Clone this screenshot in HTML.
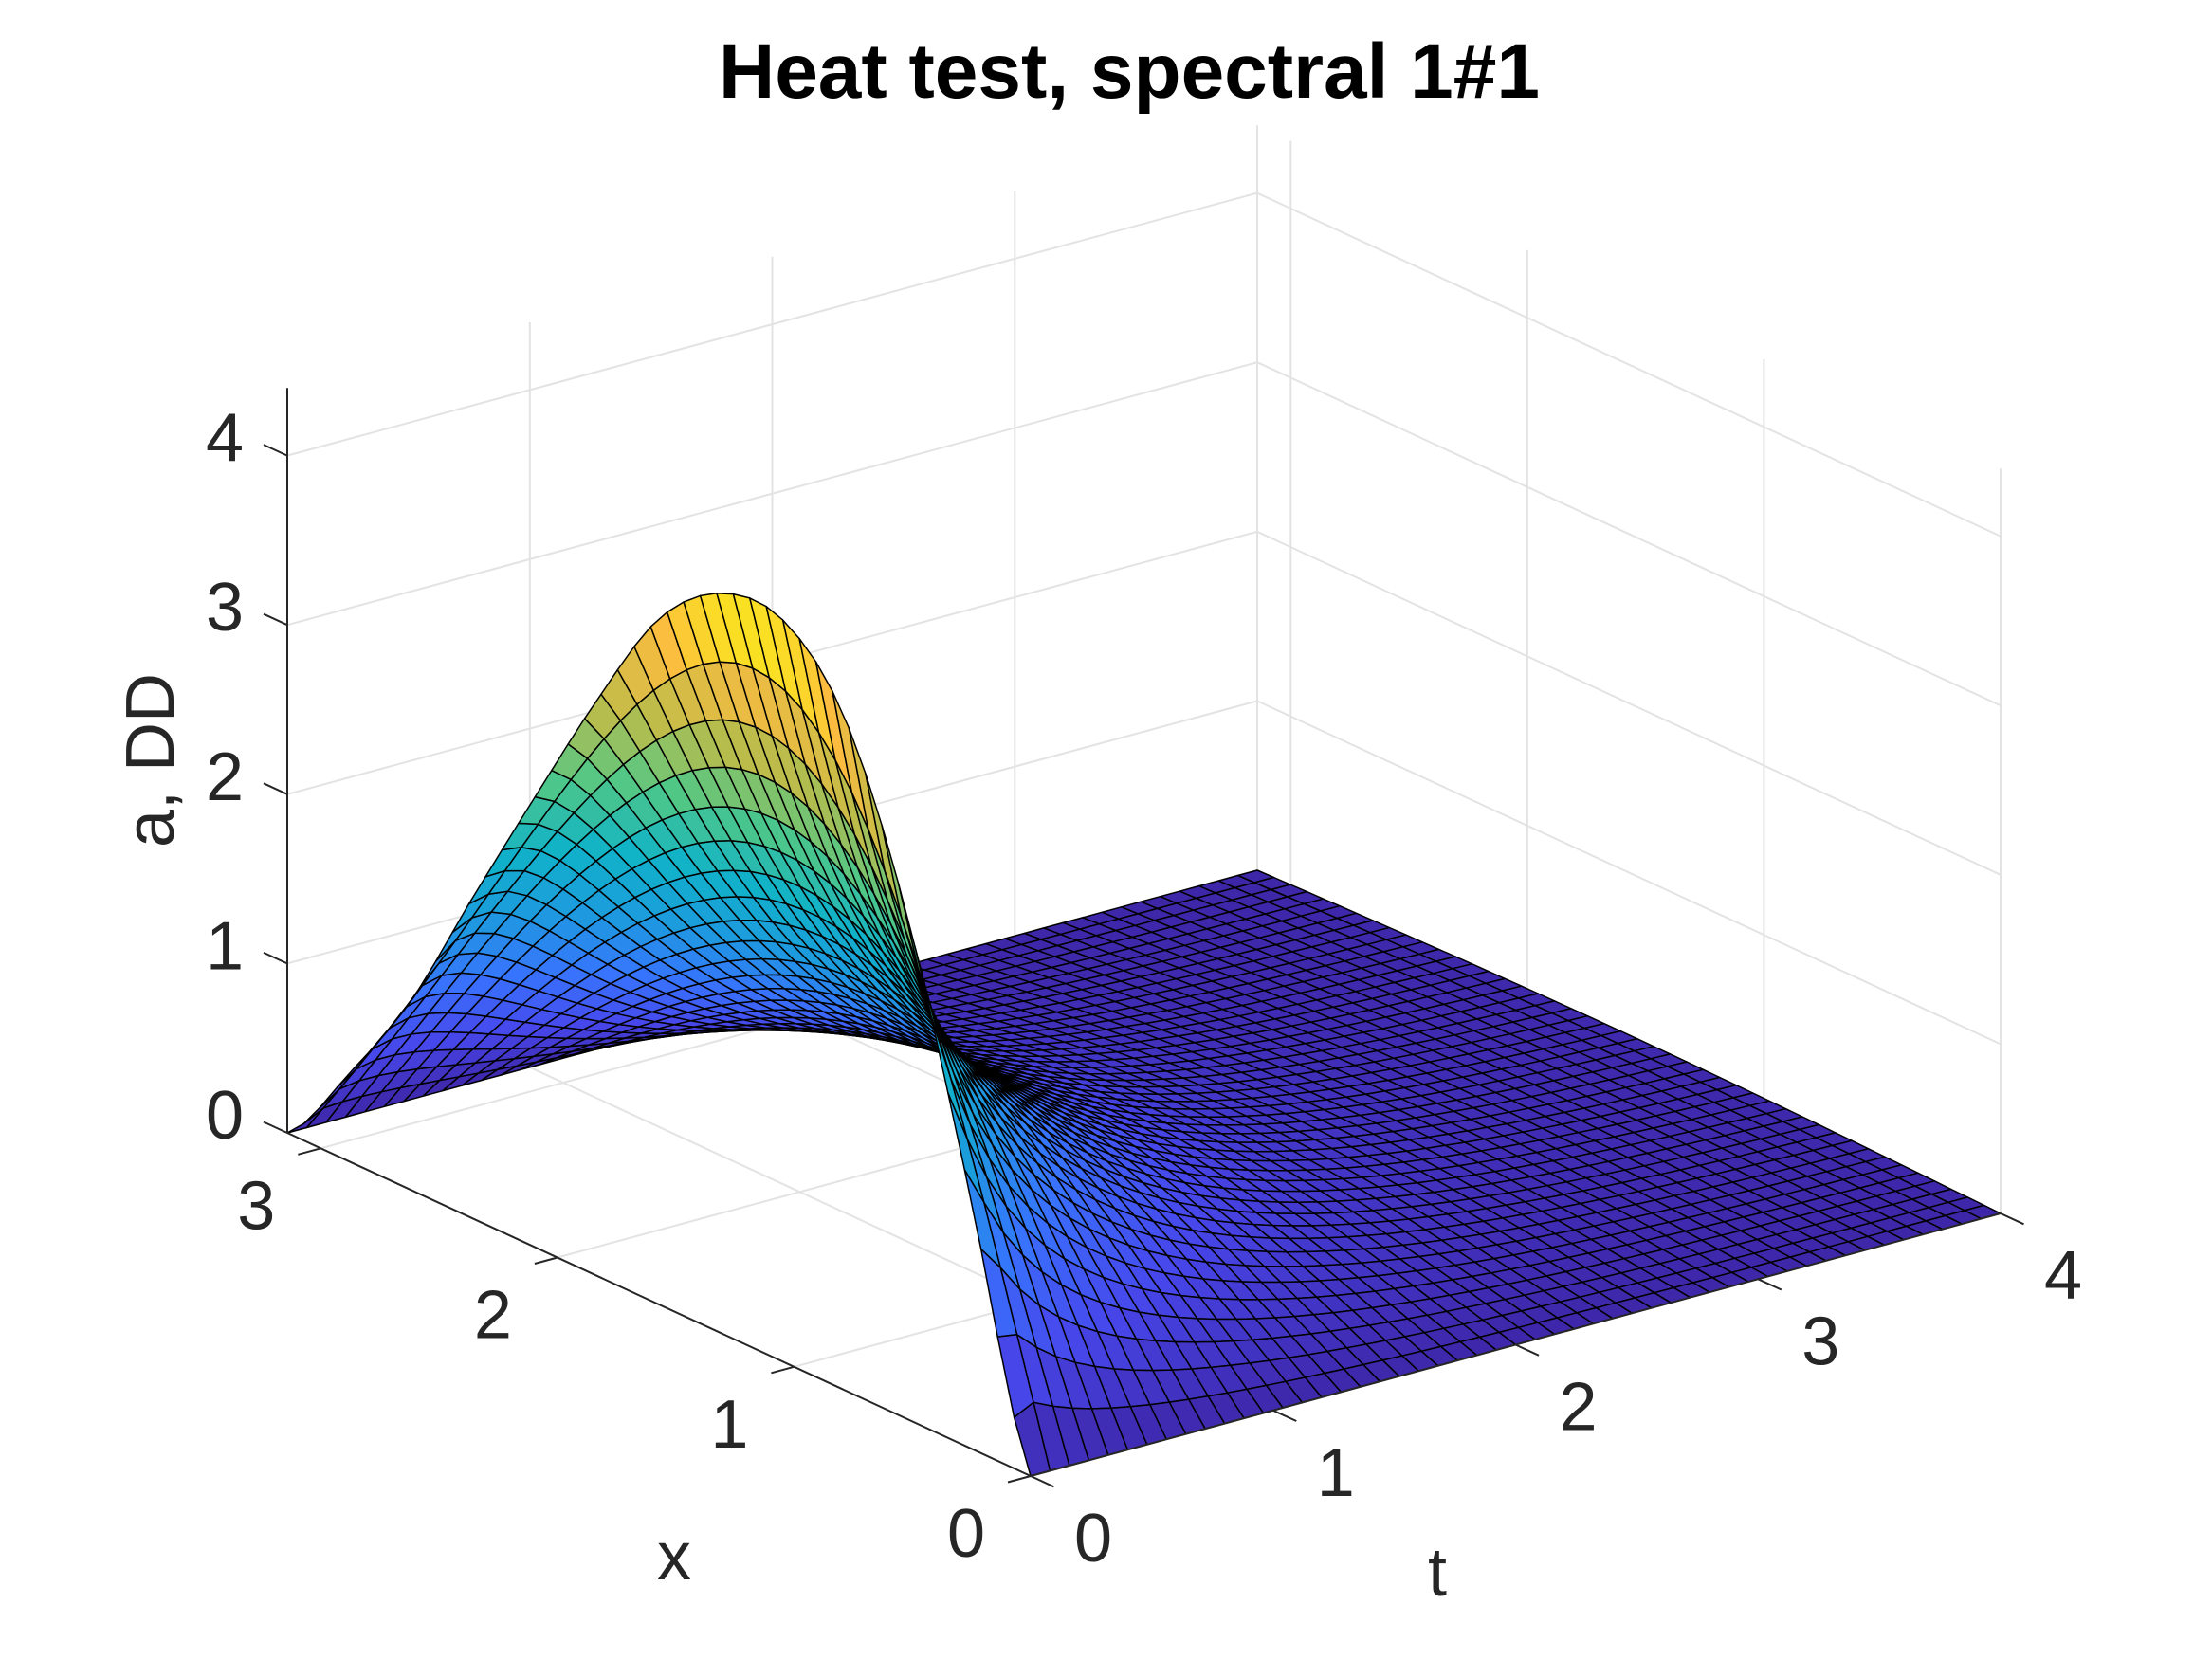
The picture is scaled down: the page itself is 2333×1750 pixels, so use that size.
<!DOCTYPE html>
<html><head><meta charset="utf-8"><title>Heat test, spectral 1#1</title>
<style>
html,body{margin:0;padding:0;background:#fff;}
svg{display:block;font-family:"Liberation Sans",Arial,sans-serif;}
</style></head>
<body>
<svg id="chart" xmlns="http://www.w3.org/2000/svg" width="2333" height="1750" viewBox="0 0 2333 1750">
<rect x="0" y="0" width="2333" height="1750" fill="#ffffff"/>
<g id="grid"></g>
<g id="surface"></g>
<g id="axes"></g>
<text x="1191" y="103" text-anchor="middle" font-size="82" font-weight="bold" fill="#000">Heat test, spectral 1#1</text>
<text x="711" y="1666" text-anchor="middle" font-size="72" fill="#262626">x</text>
<text x="1516" y="1683" text-anchor="middle" font-size="72" fill="#262626">t</text>
<text transform="translate(183,802) rotate(-90)" text-anchor="middle" font-size="72" fill="#262626">a, DD</text>
</svg>
<script>
// ---- data ----
const xTicks = [0, 1, 2, 3];
const tTicks = [0, 1, 2, 3, 4];
const zTicks = [0, 1, 2, 3, 4];
// initial profile a(x,0) sampled at x = k*pi/12, k=0..12
const profile = [0, 1.53, 2.98, 3.97, 4.38, 4.37, 4.05, 3.40, 2.66, 1.90, 1.12, 0.52, 0];
const decayRate = 1.15;
const xMax = Math.PI, tMax = 4, zMax = 4.4;
const nX = 45, nT = 50;

// ---- projection ----
const O = [1087, 1557], UX = [(303 - 1087) / Math.PI, (1195 - 1557) / Math.PI], UT = [255.75, -69.25], ZS = 178.6;
function P(x, t, z) { return [O[0] + x * UX[0] + t * UT[0], O[1] + x * UX[1] + t * UT[1] - z * ZS]; }
const NS = 'http://www.w3.org/2000/svg';
function line(g, a, b, color, w, name) {
  const l = document.createElementNS(NS, 'line');
  l.setAttribute('x1', a[0].toFixed(1)); l.setAttribute('y1', a[1].toFixed(1));
  l.setAttribute('x2', b[0].toFixed(1)); l.setAttribute('y2', b[1].toFixed(1));
  l.setAttribute('stroke', color); l.setAttribute('stroke-width', w);
  
  
  g.appendChild(l);
}
function text(g, x, y, s, anchor, name) {
  const e = document.createElementNS(NS, 'text');
  e.setAttribute('x', x.toFixed(1)); e.setAttribute('y', y.toFixed(1));
  e.setAttribute('text-anchor', anchor); e.setAttribute('dominant-baseline', 'central');
  e.setAttribute('font-size', '72'); e.setAttribute('fill', '#262626');
  e.textContent = s;
  
  
  g.appendChild(e);
}

// ---- grid ----
const grid = document.getElementById('grid');
const gc = '#e3e3e3';
xTicks.forEach(v => line(grid, P(v, 0, 0), P(v, tMax, 0), gc, 2, 'floor-grid-x'));
tTicks.forEach(v => line(grid, P(0, v, 0), P(xMax, v, 0), gc, 2, 'floor-grid-t'));
tTicks.forEach(v => line(grid, P(xMax, v, 0), P(xMax, v, zMax), gc, 2, 'wall-grid-t'));
zTicks.forEach(v => line(grid, P(xMax, 0, v), P(xMax, tMax, v), gc, 2, 'wall-grid-z-left'));
xTicks.forEach(v => line(grid, P(v, tMax, 0), P(v, tMax, zMax), gc, 2, 'wall-grid-x'));
zTicks.forEach(v => line(grid, P(0, tMax, v), P(xMax, tMax, v), gc, 2, 'wall-grid-z-right'));

// ---- surface values ----
const h = xMax / (profile.length - 1);
function f0(x) {
  let u = x / h, k = Math.floor(u);
  if (k < 0) k = 0; if (k > profile.length - 2) k = profile.length - 2;
  const s = u - k;
  const p0 = profile[Math.max(k - 1, 0)], p1 = profile[k], p2 = profile[k + 1], p3 = profile[Math.min(k + 2, profile.length - 1)];
  return 0.5 * ((2 * p1) + (-p0 + p2) * s + (2 * p0 - 5 * p1 + 4 * p2 - p3) * s * s + (-p0 + 3 * p1 - 3 * p2 + p3) * s * s * s);
}
const NM = 80, M = 1500, b = [];
for (let n = 1; n <= NM; n++) {
  let s = 0;
  for (let m = 0; m < M; m++) { const x = (m + 0.5) * xMax / M; s += f0(x) * Math.sin(n * x); }
  b.push(2 / Math.PI * s * xMax / M);
}
function a(x, t) {
  let s = 0;
  for (let n = 1; n <= NM; n++) s += b[n - 1] * Math.exp(-decayRate * n * n * t) * Math.sin(n * x);
  return s;
}
const Z = [];
for (let j = 0; j <= nT; j++) {
  const row = [];
  for (let i = 0; i <= nX; i++) row.push(a(i * xMax / nX, j * tMax / nT));
  Z.push(row);
}

// ---- parula ----
const par = [[0.2422,0.1504,0.6603],[0.2803,0.2782,0.9221],[0.2178,0.4535,0.9945],[0.1121,0.6072,0.8713],[0.0641,0.7001,0.7853],[0.3092,0.7819,0.5327],[0.7329,0.7384,0.2918],[0.9892,0.7367,0.2497],[0.9763,0.9831,0.0538]];
function color(v) {
  let u = Math.max(0, Math.min(1, v / zMax)) * (par.length - 1);
  let k = Math.min(Math.floor(u), par.length - 2), s = u - k;
  const c = par[k].map((c0, q) => Math.round(255 * (c0 + (par[k + 1][q] - c0) * s)));
  return 'rgb(' + c.join(',') + ')';
}

// ---- faces ----
const faces = [];
for (let j = 0; j < nT; j++) for (let i = 0; i < nX; i++) {
  const x0 = i * xMax / nX, x1 = (i + 1) * xMax / nX, t0 = j * tMax / nT, t1 = (j + 1) * tMax / nT;
  const pts = [P(x0, t0, Z[j][i]), P(x1, t0, Z[j][i + 1]), P(x1, t1, Z[j + 1][i + 1]), P(x0, t1, Z[j + 1][i])];
  const zm = (Z[j][i] + Z[j][i + 1] + Z[j + 1][i + 1] + Z[j + 1][i]) / 4;
  const near = -45677 * (x0 + x1) / 2 - 44579 * (t0 + t1) / 2;
  faces.push({pts, zm, near});
}
faces.sort((p, q) => p.near - q.near);
const surf = document.getElementById('surface');
faces.forEach(f => {
  const pg = document.createElementNS(NS, 'polygon');
  pg.setAttribute('points', f.pts.map(p => p[0].toFixed(1) + ',' + p[1].toFixed(1)).join(' '));
  pg.setAttribute('fill', color(f.zm));
  pg.setAttribute('stroke', '#000');
  pg.setAttribute('stroke-width', '1.5');
  pg.setAttribute('stroke-linejoin', 'round');
  
  
  surf.appendChild(pg);
});

// ---- axes ----
const ax = document.getElementById('axes');
const ac = '#262626';
line(ax, P(xMax, 0, 0), P(xMax, 0, zMax), ac, 2, 'z-axis-line');
line(ax, P(0, 0, 0), P(xMax, 0, 0), ac, 2, 'x-axis-line');
line(ax, P(0, 0, 0), P(0, tMax, 0), ac, 2, 't-axis-line');
xTicks.forEach(v => {
  const p = P(v, 0, 0);
  line(ax, p, [p[0] - 24, p[1] + 6.5], ac, 2, 'x-tick');
  text(ax, p[0] - 68, p[1] + 61, String(v), 'middle', 'x-tick-label');
});
tTicks.forEach(v => {
  const p = P(0, v, 0);
  line(ax, p, [p[0] + 24.5, p[1] + 11.3], ac, 2, 't-tick');
  text(ax, p[0] + 66, p[1] + 66, String(v), 'middle', 't-tick-label');
});
zTicks.forEach(v => {
  const p = P(xMax, 0, v);
  line(ax, p, [p[0] - 25, p[1] - 11.5], ac, 2, 'z-tick');
  text(ax, p[0] - 46, p[1] - 18, String(v), 'end', 'z-tick-label');
});
</script>
</body></html>
